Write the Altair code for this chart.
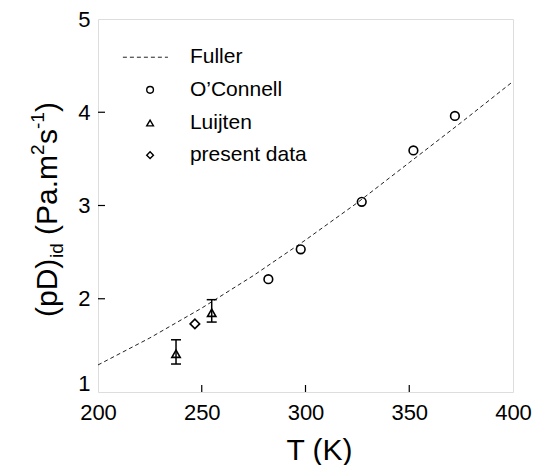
import altair as alt
import pandas as pd

FONT = "Liberation Sans"

# Fuller correlation
fuller_T = [200, 225, 250, 275, 300, 325, 350, 375, 400]
fuller_v = [1.29, 1.58, 1.90, 2.25, 2.63, 3.03, 3.46, 3.89, 4.33]

# O'Connell
oc_T = [282.1, 297.7, 327.1, 352.0, 372.0]
oc_v = [2.21, 2.53, 3.04, 3.59, 3.96]

# Luijten with error bars
lu_T = [237.6, 254.8]
lu_v = [1.41, 1.85]
lu_lo = [1.30, 1.75]
lu_hi = [1.56, 1.99]

# present data
pr_T = [246.7]
pr_v = [1.73]

x_ticks = [250, 300, 350]
y_ticks = [2, 3, 4]

legend_labels = ["Fuller", "O\u2019Connell", "Luijten", "present data"]
legend_v = [4.59, 4.24, 3.885, 3.54]
legend_text_T = 244.3
legend_sym_T = 225.1
legend_line_T = [212.0, 233.7]

W, H = 415, 373

xs = alt.Scale(domain=[200, 400], nice=False, zero=False)
ys = alt.Scale(domain=[1, 5], nice=False, zero=False)

xax = alt.Axis(values=[200, 250, 300, 350, 400], format="d", domain=False, ticks=False, grid=False,
               labelFontSize=22, labelFont=FONT, labelColor="black", labelPadding=10,
               labelFlush=False,
               title="T (K)", titleFontSize=30, titleFont=FONT, titleFontWeight="normal",
               titleColor="black", titleX=221, titleY=67, titleBaseline="alphabetic",
               titleAlign="center", titleAnchor="start")
yax = alt.Axis(values=[1, 2, 3, 4, 5], format="d", domain=False, ticks=False, grid=False,
               labelFontSize=22, labelFont=FONT, labelColor="black", labelPadding=8,
               labelFlush=False, title=None,
               labelOffset={"condition": {"test": "datum.value == 1", "value": -9}, "value": 0})

fdf = pd.DataFrame({"T": fuller_T, "v": fuller_v})
fuller = alt.Chart(fdf).mark_line(color="#222", strokeWidth=1, strokeDash=[4, 3]).encode(
    x=alt.X("T:Q", scale=xs, axis=xax),
    y=alt.Y("v:Q", scale=ys, axis=yax),
)

ocdf = pd.DataFrame({"T": oc_T, "v": oc_v})
oc = alt.Chart(ocdf).mark_point(shape="circle", filled=False, size=75, color="black",
                                 opacity=1, strokeWidth=1.6).encode(
    x=alt.X("T:Q", scale=xs), y=alt.Y("v:Q", scale=ys))

ludf = pd.DataFrame({"T": lu_T, "v": lu_v, "lo": lu_lo, "hi": lu_hi})
lu_rule = alt.Chart(ludf).mark_rule(color="black", strokeWidth=1.5).encode(
    x=alt.X("T:Q", scale=xs), y=alt.Y("lo:Q", scale=ys), y2="hi:Q")
lu_cap_lo = alt.Chart(ludf).mark_tick(color="black", thickness=1.5, size=10, opacity=1,
                                      orient="horizontal").encode(
    x=alt.X("T:Q", scale=xs), y=alt.Y("lo:Q", scale=ys))
lu_cap_hi = alt.Chart(ludf).mark_tick(color="black", thickness=1.5, size=10, opacity=1,
                                      orient="horizontal").encode(
    x=alt.X("T:Q", scale=xs), y=alt.Y("hi:Q", scale=ys))
lu = alt.Chart(ludf).mark_point(shape="triangle-up", filled=False, size=70, color="black",
                                 opacity=1, strokeWidth=1.6).encode(
    x=alt.X("T:Q", scale=xs), y=alt.Y("v:Q", scale=ys))

prdf = pd.DataFrame({"T": pr_T, "v": pr_v})
pr = alt.Chart(prdf).mark_point(shape="diamond", filled=False, size=90, color="black",
                                 opacity=1, strokeWidth=1.6).encode(
    x=alt.X("T:Q", scale=xs), y=alt.Y("v:Q", scale=ys))

# inward ticks
xt = alt.Chart(pd.DataFrame({"T": x_ticks})).mark_rule(color="black", strokeWidth=1.2).encode(
    x=alt.X("T:Q", scale=xs), y=alt.value(H), y2=alt.value(H - 7))
yt = alt.Chart(pd.DataFrame({"v": y_ticks})).mark_rule(color="black", strokeWidth=1.2).encode(
    y=alt.Y("v:Q", scale=ys), x=alt.value(0), x2=alt.value(7))

# legend
ldf = pd.DataFrame({"label": legend_labels, "v": legend_v, "T": [legend_text_T] * 4})
ltext = alt.Chart(ldf).mark_text(align="left", baseline="middle", fontSize=21, font=FONT,
                                 color="black").encode(
    x=alt.X("T:Q", scale=xs), y=alt.Y("v:Q", scale=ys), text="label:N")
lline = alt.Chart(pd.DataFrame({"T": legend_line_T, "v": [legend_v[0]] * 2})).mark_line(
    color="#222", strokeWidth=1, strokeDash=[4, 3]).encode(
    x=alt.X("T:Q", scale=xs), y=alt.Y("v:Q", scale=ys))
sym_shapes = ["circle", "triangle-up", "diamond"]
sdf = pd.DataFrame({"T": [legend_sym_T] * 3, "v": legend_v[1:], "s": sym_shapes})
lsym = alt.Chart(sdf).mark_point(filled=False, size=45, color="black", opacity=1,
                                  strokeWidth=1.4).encode(
    x=alt.X("T:Q", scale=xs), y=alt.Y("v:Q", scale=ys),
    shape=alt.Shape("s:N", scale=alt.Scale(domain=sym_shapes, range=sym_shapes), legend=None))

# y title pieces (rotated)
yt_pieces = [
    ("(pD)", 30, -41, 298),
    ("id", 19, -35, 239),
    ("(Pa.m", 30, -41, 216),
    ("2", 19, -54, 136),
    ("s", 30, -41, 125),
    ("-1", 19, -54, 110),
    (")", 30, -41, 93),
]
ylayers = []
for txt, fs, px, py in yt_pieces:
    ylayers.append(
        alt.Chart(pd.DataFrame({"t": [txt]})).mark_text(
            angle=270, align="left", baseline="alphabetic", fontSize=fs, font=FONT,
            color="black").encode(text="t:N", x=alt.value(px), y=alt.value(py))
    )

chart = alt.layer(fuller, lu_rule, lu_cap_lo, lu_cap_hi, oc, lu, pr, xt, yt,
                  lline, lsym, ltext, *ylayers).properties(
    width=W, height=H,
    autosize=alt.AutoSizeParams(type="none"),
    padding={"left": 98, "top": 19, "right": 23, "bottom": 73},
).configure_view(stroke="#222", strokeWidth=1.5).configure(background="white")

chart.save("out.html", embed_options={"renderer": "svg", "actions": False})
